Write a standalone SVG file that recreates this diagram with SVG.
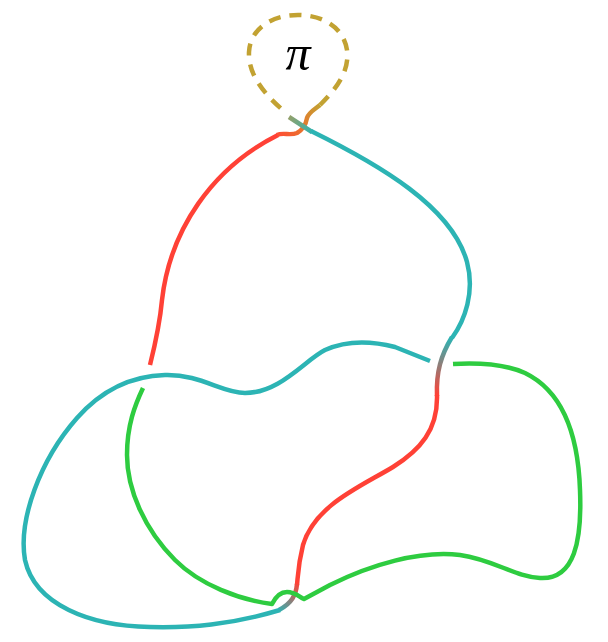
<svg xmlns="http://www.w3.org/2000/svg" width="608" height="642" viewBox="0 0 608 642">
<style>
.s{fill:none;stroke-width:4.5;stroke-linecap:butt;stroke-linejoin:round}
.teal{stroke:#2cb4b4}
.red{stroke:#ff4136}
.green{stroke:#2ecc40}
.gold{stroke:#c2a232;stroke-dasharray:12 9}
</style>
<defs>
<linearGradient id="gTopTeal" gradientUnits="userSpaceOnUse" x1="289" y1="117" x2="314" y2="134">
<stop offset="0" stop-color="#93a06a"/><stop offset="1" stop-color="#2cb4b4"/>
</linearGradient>
<linearGradient id="gTealRed" gradientUnits="userSpaceOnUse" x1="0" y1="338" x2="0" y2="395">
<stop offset="0" stop-color="#2cb4b4"/><stop offset="1" stop-color="#ff4136"/>
</linearGradient>
<linearGradient id="gRedTeal" gradientUnits="userSpaceOnUse" x1="297" y1="582" x2="278" y2="612">
<stop offset="0" stop-color="#ff4136"/><stop offset="1" stop-color="#2cb4b4"/>
</linearGradient>
<linearGradient id="gRedGold" gradientUnits="userSpaceOnUse" x1="276" y1="134" x2="320" y2="105">
<stop offset="0" stop-color="#ff4c34"/><stop offset="0.5" stop-color="#e8762d"/><stop offset="1" stop-color="#c2a232"/>
</linearGradient>
</defs>
<g id="knot">
<path id="red-upper" class="s red" d="M150 365 C155 345 160 322 162 300 C170 230 212 168 278 135"/>
<path id="orange" class="s" stroke="url(#gRedGold)" d="M277 135 C283 132 290 136 297 133 C304 129 306 124 307 118 C309 112 314 110 320 105"/>
<path id="dashed-loop" class="s gold" d="M320 105 C335 90 350 72 347 50 C343 25 320 15 298 15 C270 15 250 30 249 52 C248 75 265 95 284 111"/>
<path id="over-top" class="s" stroke="url(#gTopTeal)" d="M289 117 L312 132"/>
<path id="teal-arc" class="s teal" d="M311 131 C380 165 452 207 467 262 C475 292 465 320 452 338"/>
<path id="teal-red" class="s" stroke="url(#gTealRed)" d="M452 337 C441 355 436 372 437 396"/>
<path id="red-lower" class="s red" d="M437 395 C438 430 420 450 393 467 C360 487 315 505 303 545 C298 565 298 575 297 585"/>
<path id="red-teal" class="s" stroke="url(#gRedTeal)" d="M297 584 C296 595 292 603 279 610"/>
<path id="teal-loop" class="s teal" d="M280 610 C230 625 190 628 150 627 C90 626 35 605 25 560 C18 520 40 460 77 418 C100 392 130 376 165 375 C200 374 222 393 245 393 C280 393 305 360 325 350 C345 341 368 340 395 347 L430 361"/>
<path id="green" class="s green" d="M453 364 C470 363 500 362 525 373 C560 390 578 430 580 490 C582 540 575 580 540 578 C515 577 495 560 460 555 C420 550 370 565 330 585 L304 599 C298 596 295 592 287 592 C280 592 276 596 272 604 C240 600 200 585 175 560 C145 530 127 490 127 455 C127 425 135 405 143 388"/>
</g>
<g id="label">
<text x="298" y="70" font-family="Liberation Serif, serif" font-style="italic" font-size="50" text-anchor="middle" fill="#000">π</text>
</g>
</svg>
